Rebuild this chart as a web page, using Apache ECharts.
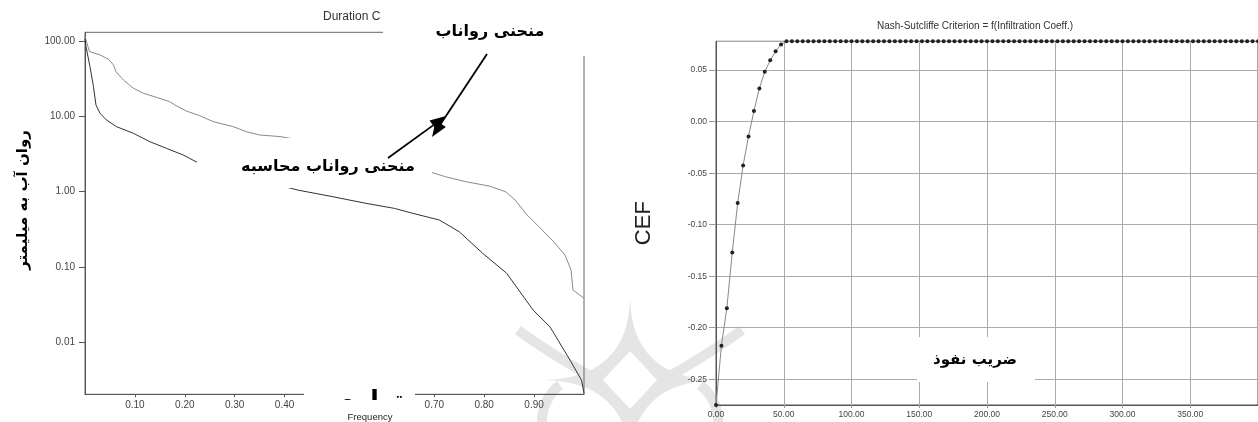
<!DOCTYPE html>
<html><head><meta charset="utf-8">
<script src="https://cdn.jsdelivr.net/npm/echarts@6/dist/echarts.min.js"></script>
<style>html,body{margin:0;padding:0;background:#fff}#c{width:1258px;height:422px}</style>
</head><body><div id="c"></div>
<script>
// ---- Left chart: flow duration curves (log scale) ----
const runoffFreq = [0, 0.009, 0.03, 0.047, 0.057, 0.062, 0.077, 0.097, 0.117, 0.143, 0.17, 0.18, 0.203, 0.23, 0.257, 0.297, 0.323, 0.35, 0.393, 0.45, 0.5, 0.55, 0.6, 0.65, 0.693, 0.723, 0.763, 0.81, 0.843, 0.862, 0.886, 0.912, 0.942, 0.962, 0.974, 0.978, 0.998, 1.0];
const runoffFlow = [116, 73.6, 66.5, 58.2, 48.9, 39.8, 30.8, 23.9, 20.5, 18.1, 15.8, 14.3, 11.9, 10.3, 8.58, 7.36, 6.31, 5.7, 5.41, 4.6, 3.9, 3.2, 2.6, 2.15, 1.82, 1.58, 1.36, 1.19, 1.0, 0.775, 0.49, 0.33, 0.206, 0.143, 0.091, 0.049, 0.039, 0.038];
const calcFreq = [0, 0.002, 0.01, 0.017, 0.022, 0.03, 0.043, 0.063, 0.097, 0.13, 0.163, 0.197, 0.223, 0.26, 0.3, 0.35, 0.4, 0.427, 0.497, 0.563, 0.62, 0.657, 0.71, 0.75, 0.797, 0.845, 0.898, 0.932, 0.972, 0.995, 1.0];
const calcFlow = [110, 85.8, 46.4, 25.1, 14.3, 11.1, 9.03, 7.36, 6.0, 4.64, 3.79, 3.08, 2.5, 2.05, 1.75, 1.45, 1.17, 1.05, 0.857, 0.70, 0.60, 0.515, 0.42, 0.293, 0.151, 0.082, 0.0265, 0.0158, 0.0057, 0.00309, 0.00206];
const freqTicks = [0.1, 0.2, 0.3, 0.4, 0.5, 0.6, 0.7, 0.8, 0.9];
const flowTicks = [0.01, 0.1, 1, 10, 100];

// ---- Right chart: Nash-Sutcliffe criterion vs infiltration coefficient ----
const infCoeff = [0, 4, 8, 12, 16, 20, 24, 28, 32, 36, 40, 44, 48, 52, 56, 60, 64, 68, 72, 76, 80, 84, 88, 92, 96, 100, 104, 108, 112, 116, 120, 124, 128, 132, 136, 140, 144, 148, 152, 156, 160, 164, 168, 172, 176, 180, 184, 188, 192, 196, 200, 204, 208, 212, 216, 220, 224, 228, 232, 236, 240, 244, 248, 252, 256, 260, 264, 268, 272, 276, 280, 284, 288, 292, 296, 300, 304, 308, 312, 316, 320, 324, 328, 332, 336, 340, 344, 348, 352, 356, 360, 364, 368, 372, 376, 380, 384, 388, 392, 396, 400];
const nashCEF = [-0.275, -0.2175, -0.181, -0.127, -0.079, -0.0425, -0.0143, 0.0104, 0.0323, 0.0485, 0.0595, 0.0683, 0.075, 0.078, 0.078, 0.078, 0.078, 0.078, 0.078, 0.078, 0.078, 0.078, 0.078, 0.078, 0.078, 0.078, 0.078, 0.078, 0.078, 0.078, 0.078, 0.078, 0.078, 0.078, 0.078, 0.078, 0.078, 0.078, 0.078, 0.078, 0.078, 0.078, 0.078, 0.078, 0.078, 0.078, 0.078, 0.078, 0.078, 0.078, 0.078, 0.078, 0.078, 0.078, 0.078, 0.078, 0.078, 0.078, 0.078, 0.078, 0.078, 0.078, 0.078, 0.078, 0.078, 0.078, 0.078, 0.078, 0.078, 0.078, 0.078, 0.078, 0.078, 0.078, 0.078, 0.078, 0.078, 0.078, 0.078, 0.078, 0.078, 0.078, 0.078, 0.078, 0.078, 0.078, 0.078, 0.078, 0.078, 0.078, 0.078, 0.078, 0.078, 0.078, 0.078, 0.078, 0.078, 0.078, 0.078, 0.078, 0.078];

const zip = (a, b) => a.map((v, i) => [v, b[i]]);
const SANS = 'Liberation Sans';
const AR = 'DejaVu Sans';
const fmt2 = v => Number(v).toFixed(2);

function txt(x, y, text, size, opts) {
  opts = opts || {};
  return {
    type: 'text', x: x, y: y, z: opts.z || 13, rotation: opts.rotation || 0,
    style: {
      text: text, fill: opts.color || '#000',
      font: (opts.weight || 'bold') + ' ' + size + 'px "' + (opts.family || AR) + '"',
      textAlign: 'center', textVerticalAlign: 'middle', align: 'center', verticalAlign: 'middle'
    }
  };
}
function whiteRect(x, y, w, h, z) {
  return { type: 'rect', z: z || 10, shape: { x: x, y: y, width: w, height: h }, style: { fill: '#fff' } };
}
function arrow(x1, y1, tx, ty) {
  const dx = tx - x1, dy = ty - y1, L = Math.sqrt(dx * dx + dy * dy);
  const ux = dx / L, uy = dy / L, px = -uy, py = ux;
  const bx = tx - 16 * ux, by = ty - 16 * uy;
  return [
    { type: 'line', z: 14, shape: { x1: x1, y1: y1, x2: bx, y2: by }, style: { stroke: '#000', lineWidth: 1.8 } },
    { type: 'polygon', z: 14, shape: { points: [[tx, ty], [bx + 6 * px, by + 6 * py], [bx - 6 * px, by - 6 * py]] }, style: { fill: '#000' } }
  ];
}
// faint watermark (decoration): concave four-point star with a white diamond inside
function quadPts(p0, c, p1, n) {
  const out = [];
  for (let i = 0; i <= n; i++) {
    const t = i / n, a = (1 - t) * (1 - t), b = 2 * (1 - t) * t, d = t * t;
    out.push([a * p0[0] + b * c[0] + d * p1[0], a * p0[1] + b * c[1] + d * p1[1]]);
  }
  return out;
}
function watermark() {
  const cx = 630, cy = 380;
  const T = [cx, 298], R = [cx + 86, cy], B = [cx, 462], L = [cx - 86, cy];
  const k = 2;
  const star = [].concat(
    quadPts(T, [cx + k, cy - k], R, 16),
    quadPts(R, [cx + k, cy + k], B, 16),
    quadPts(B, [cx - k, cy + k], L, 16),
    quadPts(L, [cx - k, cy - k], T, 16));
  const col = '#e5e5e5';
  return [
    { type: 'polygon', z: -2, silent: true, shape: { points: star }, style: { fill: col } },
    { type: 'polygon', z: -1, silent: true, shape: { points: [[cx, cy - 29], [cx + 27, cy], [cx, cy + 29], [cx - 27, cy]] }, style: { fill: '#fff' } },
    { type: 'bezierCurve', z: -2, silent: true, shape: { x1: cx - 40, y1: cy - 4, cpx1: cx - 85, cpy1: cy - 30, x2: cx - 112, y2: cy - 50 }, style: { stroke: col, lineWidth: 10, fill: null } },
    { type: 'bezierCurve', z: -2, silent: true, shape: { x1: cx + 40, y1: cy - 4, cpx1: cx + 85, cpy1: cy - 30, x2: cx + 112, y2: cy - 50 }, style: { stroke: col, lineWidth: 10, fill: null } },
    { type: 'bezierCurve', z: -2, silent: true, shape: { x1: cx - 70, y1: cy + 5, cpx1: cx - 90, cpy1: cy + 20, x2: cx - 88, y2: cy + 50 }, style: { stroke: col, lineWidth: 10, fill: null } },
    { type: 'bezierCurve', z: -2, silent: true, shape: { x1: cx + 70, y1: cy + 5, cpx1: cx + 90, cpy1: cy + 20, x2: cx + 88, y2: cy + 50 }, style: { stroke: col, lineWidth: 10, fill: null } }
  ];
}

const chart = echarts.init(document.getElementById('c'), null, { renderer: 'canvas' });
chart.setOption({
  animation: false,
  backgroundColor: '#fff',
  title: [
    { text: 'Duration C', left: 323, top: 11, padding: 0,
      textStyle: { fontSize: 12, fontWeight: 'normal', color: '#333', fontFamily: SANS } },
    { text: 'Nash-Sutcliffe Criterion = f(Infiltration Coeff.)', left: 877, top: 21.5, padding: 0,
      textStyle: { fontSize: 10, fontWeight: 'normal', color: '#333', fontFamily: SANS } }
  ],
  grid: [
    { left: 85, top: 32.3, width: 499, height: 362, show: true, borderColor: '#666', borderWidth: 1, containLabel: false },
    { left: 716, top: 41.3, width: 556, height: 363.7, show: true, borderColor: '#555', borderWidth: 1, containLabel: false }
  ],
  xAxis: [
    { gridIndex: 0, type: 'value', min: 0, max: 1, interval: 0.1,
      axisLine: { onZero: false, lineStyle: { color: '#555' } },
      axisTick: { show: true, length: 3, lineStyle: { color: '#555' } },
      axisLabel: { formatter: fmt2, fontSize: 10, color: '#444', margin: 6, fontFamily: SANS, showMinLabel: false, showMaxLabel: false },
      splitLine: { show: false } },
    { gridIndex: 1, type: 'value', min: 0, max: 400, interval: 50,
      axisLine: { onZero: false, lineStyle: { color: '#555' } },
      axisTick: { show: true, length: 3, lineStyle: { color: '#999' } },
      axisLabel: { formatter: fmt2, fontSize: 8.5, color: '#444', margin: 5, fontFamily: SANS, showMaxLabel: false },
      splitLine: { show: true, lineStyle: { color: '#aaa', width: 1 } } }
  ],
  yAxis: [
    { gridIndex: 0, type: 'log', logBase: 10, min: 0.002, max: 133,
      axisLine: { show: true, onZero: false, lineStyle: { color: '#555' } },
      axisTick: { show: true, length: 6, lineStyle: { color: '#555' } },
      axisLabel: { formatter: fmt2, fontSize: 10, color: '#444', margin: 10, fontFamily: SANS, showMinLabel: false, showMaxLabel: false },
      splitLine: { show: false }, minorTick: { show: false } },
    { gridIndex: 1, type: 'value', min: -0.275, max: 0.078, splitNumber: 7,
      name: 'CEF', nameLocation: 'middle', nameGap: 61, nameRotate: 90,
      nameTextStyle: { fontSize: 22, color: '#222', fontFamily: SANS },
      axisLine: { show: true, onZero: false, lineStyle: { color: '#555' } },
      axisTick: { show: true, length: 7, lineStyle: { color: '#999' } },
      axisLabel: { formatter: fmt2, fontSize: 8.5, color: '#444', margin: 9, fontFamily: SANS, showMinLabel: false, showMaxLabel: false },
      splitLine: { show: true, lineStyle: { color: '#aaa', width: 1 } } }
  ],
  series: [
    { name: 'runoff', type: 'line', xAxisIndex: 0, yAxisIndex: 0, data: zip(runoffFreq, runoffFlow),
      showSymbol: false, symbol: 'none', lineStyle: { color: '#8a8a8a', width: 1 }, silent: true },
    { name: 'calculated', type: 'line', xAxisIndex: 0, yAxisIndex: 0, data: zip(calcFreq, calcFlow),
      showSymbol: false, symbol: 'none', lineStyle: { color: '#333', width: 1 }, silent: true },
    { name: 'CEF', type: 'line', xAxisIndex: 1, yAxisIndex: 1, data: zip(infCoeff, nashCEF), clip: false,
      symbol: 'circle', symbolSize: 4, itemStyle: { color: '#222' }, lineStyle: { color: '#888', width: 1 }, silent: true }
  ],
  graphic: [
    ...watermark(),
    // white label boxes pasted over the left chart
    whiteRect(383, 0, 235, 56),
    whiteRect(197, 138, 235, 50),
    whiteRect(304, 389, 111, 24),
    txt(370, 401, 'تراوم', 25, { z: 11 }),
    whiteRect(325, 400, 90, 22, 12),
    txt(370, 417, 'Frequency', 9.5, { weight: 'normal', family: SANS, color: '#222' }),
    txt(490, 32, 'منحنی رواناب', 16),
    txt(328, 167, 'منحنی رواناب محاسبه', 16),
    txt(23, 200, 'روان آب به میلیمتر', 15, { rotation: Math.PI / 2 }),
    // right chart x label box
    whiteRect(917, 337, 118, 45),
    txt(975, 360, 'ضریب نفوذ', 15),
    ...arrow(487, 54, 432, 137),
    ...arrow(388, 158, 446, 116)
  ]
});
</script></body></html>
